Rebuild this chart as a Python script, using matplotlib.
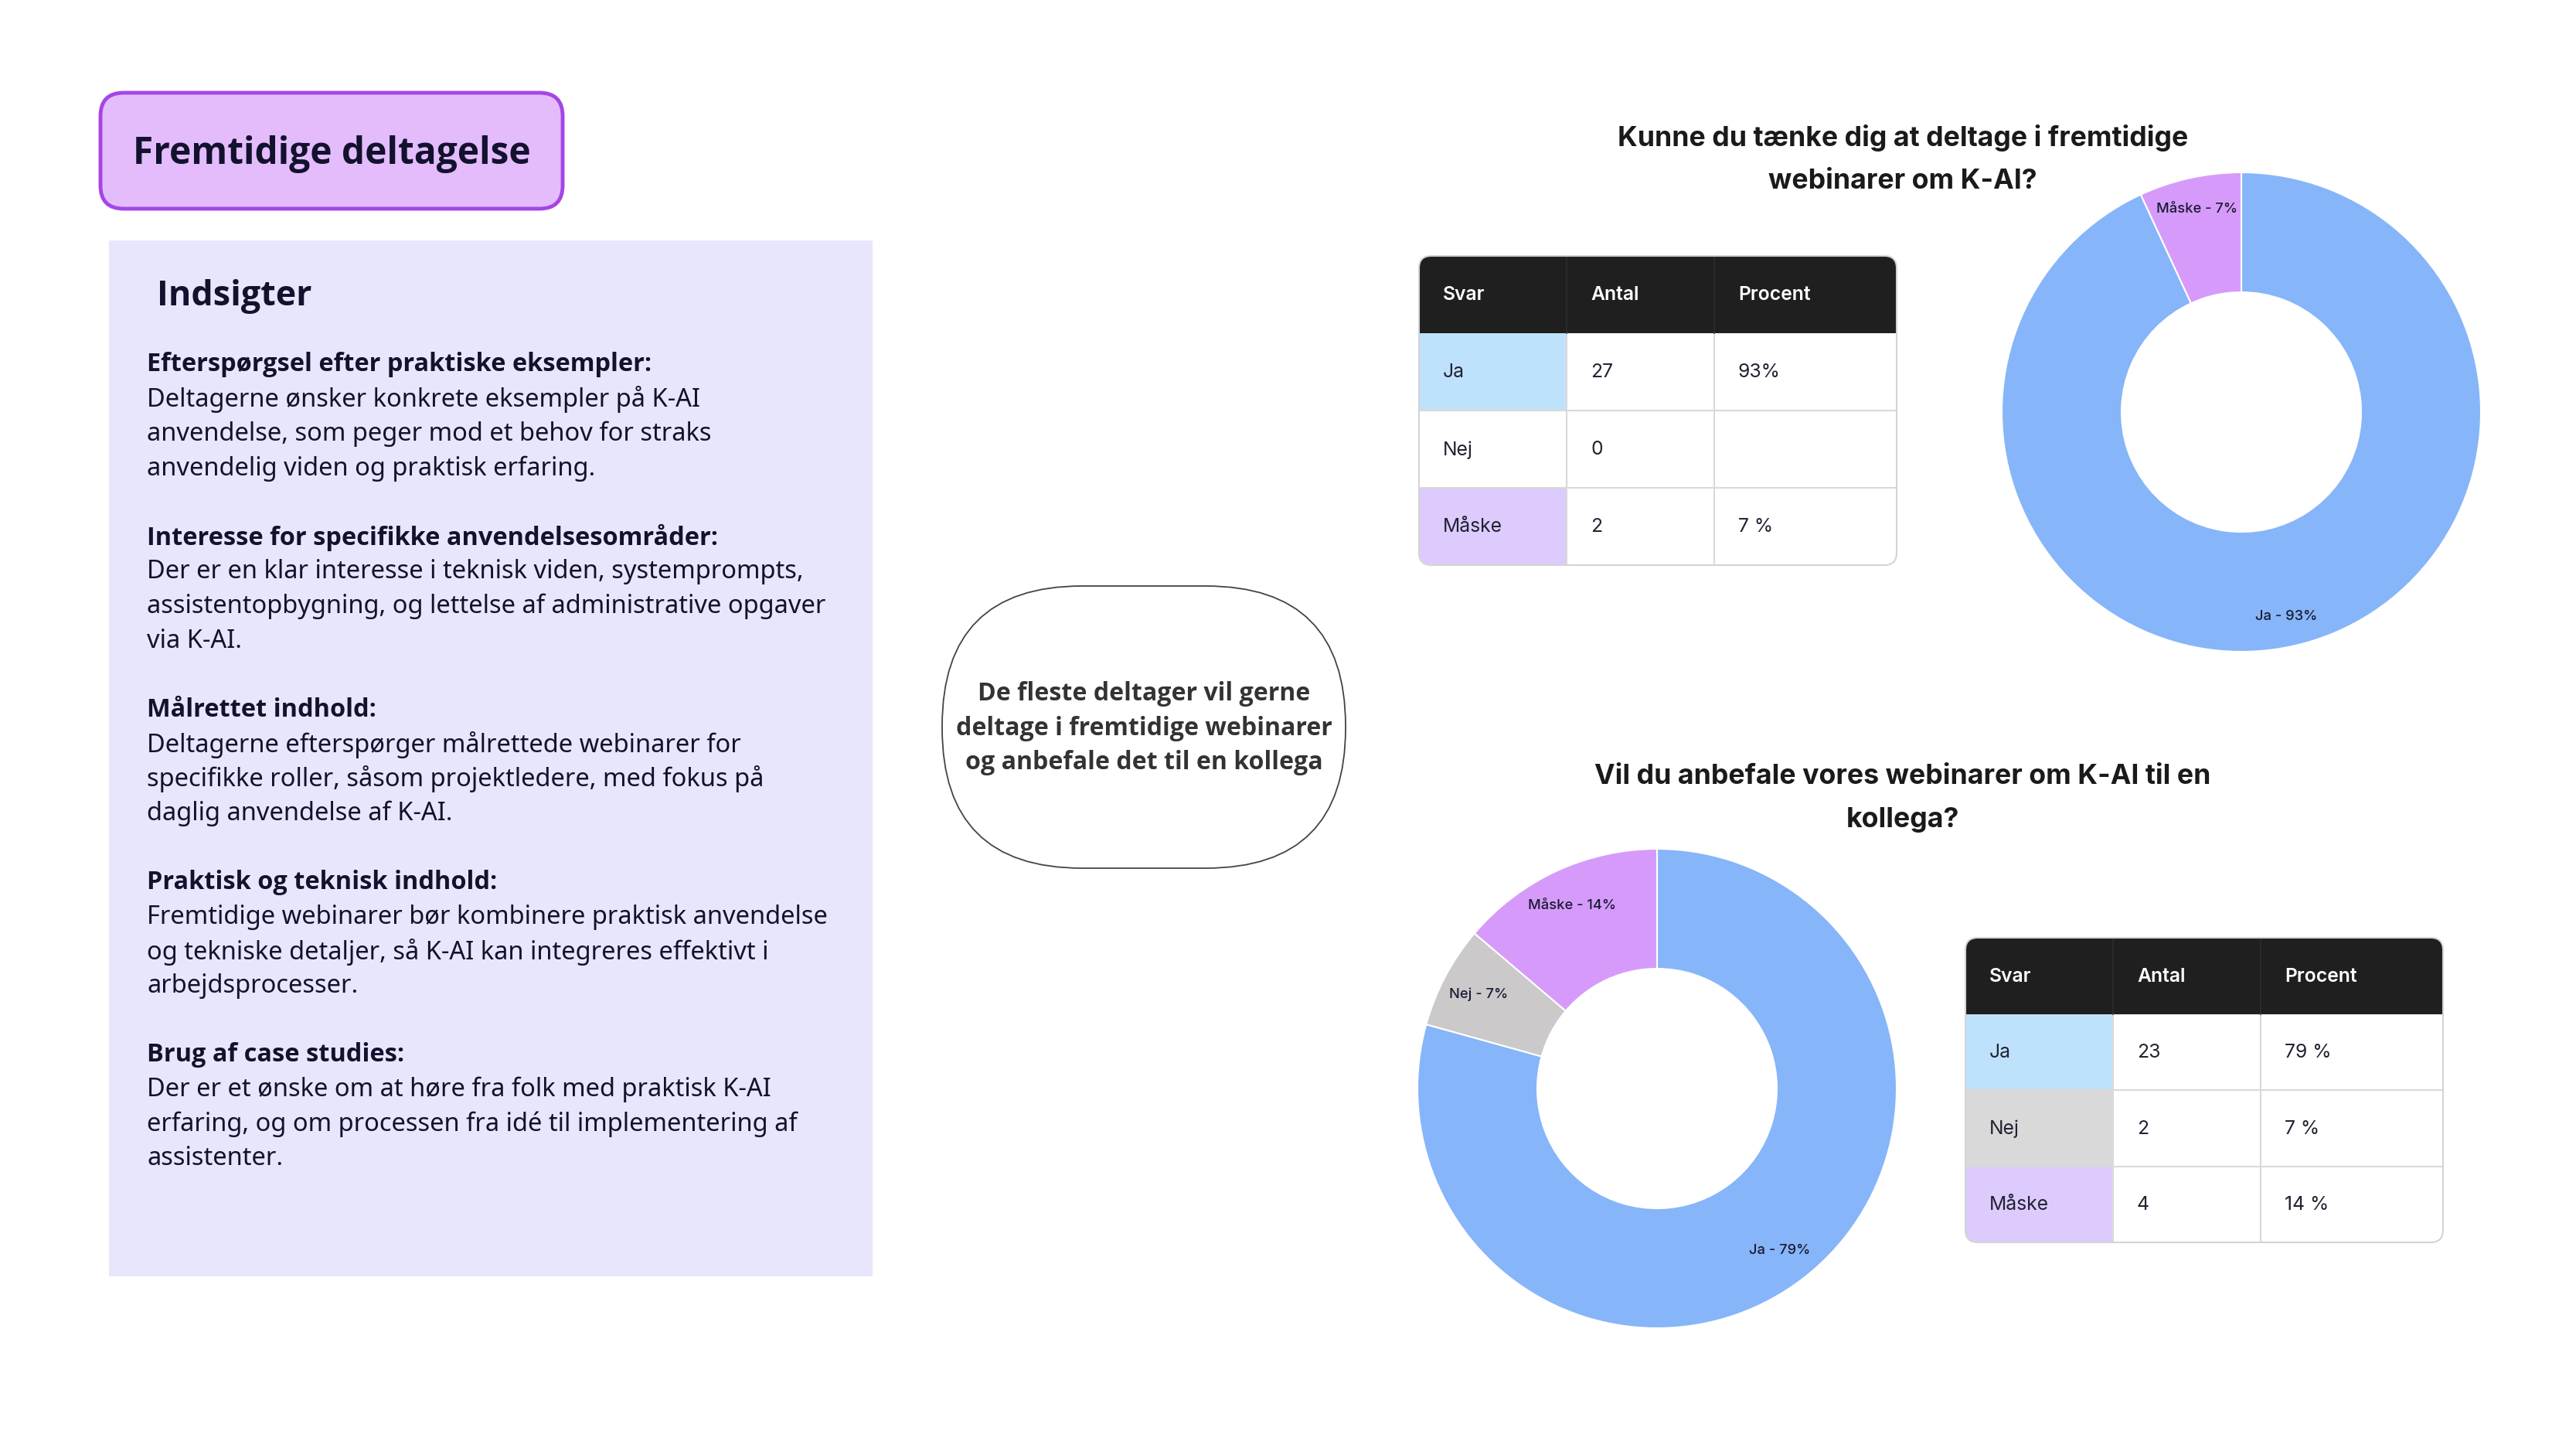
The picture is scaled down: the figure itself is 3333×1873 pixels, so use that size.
import numpy as np
import matplotlib.pyplot as plt
from matplotlib.patches import FancyBboxPatch, Rectangle

W, H = 3333, 1874

answers = ['Ja', 'Nej', 'Måske']
slice_colors = ['#86b5f9', '#cbc9c9', '#d69bfa']
cell_colors = ['#bfe2fc', '#d9d9d9', '#dccbfc']
headers = ['Svar', 'Antal', 'Procent']

q1_title = ['Kunne du tænke dig at deltage i fremtidige', 'webinarer om K-AI?']
q1_counts = [27, 0, 2]
q1_pct = ['93%', '', '7 %']
q1_row_colors = [cell_colors[0], 'white', cell_colors[2]]

q2_title = ['Vil du anbefale vores webinarer om K-AI til en', 'kollega?']
q2_counts = [23, 2, 4]
q2_pct = ['79 %', '7 %', '14 %']
q2_row_colors = cell_colors

page_title = 'Fremtidige deltagelse'
panel_title = 'Indsigter'
insights = [
    ('Efterspørgsel efter praktiske eksempler:',
     ['Deltagerne ønsker konkrete eksempler på K-AI',
      'anvendelse, som peger mod et behov for straks',
      'anvendelig viden og praktisk erfaring.']),
    ('Interesse for specifikke anvendelsesområder:',
     ['Der er en klar interesse i teknisk viden, systemprompts,',
      'assistentopbygning, og lettelse af administrative opgaver',
      'via K-AI.']),
    ('Målrettet indhold:',
     ['Deltagerne efterspørger målrettede webinarer for',
      'specifikke roller, såsom projektledere, med fokus på',
      'daglig anvendelse af K-AI.']),
    ('Praktisk og teknisk indhold:',
     ['Fremtidige webinarer bør kombinere praktisk anvendelse',
      'og tekniske detaljer, så K-AI kan integreres effektivt i',
      'arbejdsprocesser.']),
    ('Brug af case studies:',
     ['Der er et ønske om at høre fra folk med praktisk K-AI',
      'erfaring, og om processen fra idé til implementering af',
      'assistenter.']),
]
summary = ['De fleste deltager vil gerne',
           'deltage i fremtidige webinarer',
           'og anbefale det til en kollega']

BODY = ['Noto Sans', 'DejaVu Sans']
BOLD = ['Open Sans', 'DejaVu Sans']   # Noto Sans has no bold face here
UI = ['Inter', 'DejaVu Sans']
INK = '#12122e'

fig = plt.figure(figsize=(W / 100, H / 100), dpi=100)
ax = fig.add_axes([0, 0, 1, 1])
ax.set_xlim(0, W)
ax.set_ylim(H, 0)
ax.axis('off')

# heading pill
ax.add_patch(FancyBboxPatch((130, 121), 598, 150, boxstyle='round,pad=0,rounding_size=30',
                            fc='#e4bcfb', ec='#a545e6', lw=3.5))
ax.text(429, 200, page_title, ha='center', va='center', fontsize=34.5,
        fontweight='bold', family=BOLD, color=INK)

# insights panel
ax.add_patch(Rectangle((141, 312), 988, 1340, fc='#e8e6fd', ec='none'))
ax.text(203, 383, panel_title, ha='left', va='center', fontsize=32.3,
        fontweight='bold', family=BOLD, color=INK)
line_h = 44.65
y = 472
for head, lines in insights:
    ax.text(190, y, head, ha='left', va='center', fontsize=23.4,
            fontweight='bold', family=BOLD, color=INK)
    for ln in lines:
        y += line_h
        ax.text(190, y, ln, ha='left', va='center', fontsize=23.5,
                family=BODY, color=INK)
    y += 2 * line_h

# summary bubble
ax.add_patch(FancyBboxPatch((1219, 759), 522, 365, boxstyle='round,pad=0,rounding_size=181',
                            fc='white', ec='#444444', lw=1.3))
for i, ln in enumerate(summary):
    ax.text(1480, 898 + i * 44.5, ln, ha='center', va='center', fontsize=23.1,
            fontweight='bold', family=BOLD, color='#333333')


def draw_table(x0, y0, col_w, row_h, counts, pcts, first_col):
    tw = sum(col_w)
    th = row_h * (len(answers) + 1)
    xs = x0 + np.concatenate([[0], np.cumsum(col_w)])
    frame = FancyBboxPatch((x0, y0), tw, th, boxstyle='round,pad=0,rounding_size=16',
                           fc='white', ec='none', zorder=2)
    ax.add_patch(frame)
    hdr = Rectangle((x0, y0), tw, row_h, fc='#1f1f1f', ec='none', zorder=3)
    ax.add_patch(hdr)
    hdr.set_clip_path(frame)
    for r in range(len(answers)):
        cell = Rectangle((x0, y0 + (r + 1) * row_h), col_w[0], row_h,
                         fc=first_col[r], ec='none', zorder=3)
        ax.add_patch(cell)
        cell.set_clip_path(frame)
    for r in range(1, len(answers)):
        ax.plot([x0, x0 + tw], [y0 + (r + 1) * row_h] * 2, color='#d9d9d9', lw=1.5, zorder=4)
    for c in (1, 2):
        ax.plot([xs[c]] * 2, [y0 + row_h, y0 + th], color='#d9d9d9', lw=1.5, zorder=4)
        ax.plot([xs[c]] * 2, [y0, y0 + row_h], color='#2c2c2c', lw=1.2, zorder=4)
    ax.add_patch(FancyBboxPatch((x0, y0), tw, th, boxstyle='round,pad=0,rounding_size=16',
                                fc='none', ec='#d4d4d4', lw=1.5, zorder=5))
    for c, name in enumerate(headers):
        ax.text(xs[c] + 31, y0 + row_h / 2, name, ha='left', va='center', fontsize=17.8,
                fontweight='semibold', family=UI, color='white', zorder=6)
    for r, name in enumerate(answers):
        yc = y0 + (r + 1.5) * row_h
        vals = [name, str(counts[r]), pcts[r]]
        for c, v in enumerate(vals):
            ax.text(xs[c] + 31, yc, v, ha='left', va='center', fontsize=17.8,
                    family=UI, color='#222233', zorder=6)


def draw_donut(cx, cy, r, counts, label_r):
    pax = fig.add_axes([(cx - r) / W, 1 - (cy + r) / H, 2 * r / W, 2 * r / H])
    keep = [i for i, c in enumerate(counts) if c > 0]
    vals = [counts[i] for i in keep]
    total = sum(vals)
    wedges, _ = pax.pie(vals, colors=[slice_colors[i] for i in keep], startangle=90,
                        counterclock=False, radius=1,
                        wedgeprops=dict(width=0.5, edgecolor='white', linewidth=1.5))
    for w, i in zip(wedges, keep):
        ang = np.deg2rad((w.theta1 + w.theta2) / 2)
        pax.text(label_r * np.cos(ang), label_r * np.sin(ang),
                 f'{answers[i]} - {round(100 * counts[i] / total)}%',
                 ha='center', va='center', fontsize=13.2, fontweight='medium',
                 family=UI, color='#1b1b33')
    pax.set_xlim(-1, 1)
    pax.set_ylim(-1, 1)
    pax.axis('off')


# question 1
for i, ln in enumerate(q1_title):
    ax.text(2462, 178 + i * 56, ln, ha='center', va='center', fontsize=25.7,
            fontweight='bold', family=UI, color='#1a1a1a')
draw_table(1836, 332, [191, 191, 236], 100, q1_counts, q1_pct, q1_row_colors)
draw_donut(2900, 534, 310, q1_counts, 0.87)

# question 2
for i, ln in enumerate(q2_title):
    ax.text(2462, 1005 + i * 56, ln, ha='center', va='center', fontsize=25.7,
            fontweight='bold', family=UI, color='#1a1a1a')
draw_table(2543, 1214, [191, 191, 236], 98.5, q2_counts, q2_pct, q2_row_colors)
draw_donut(2144, 1409, 310, q2_counts, 0.845)

fig.savefig('out.png', dpi=100, facecolor='white')
